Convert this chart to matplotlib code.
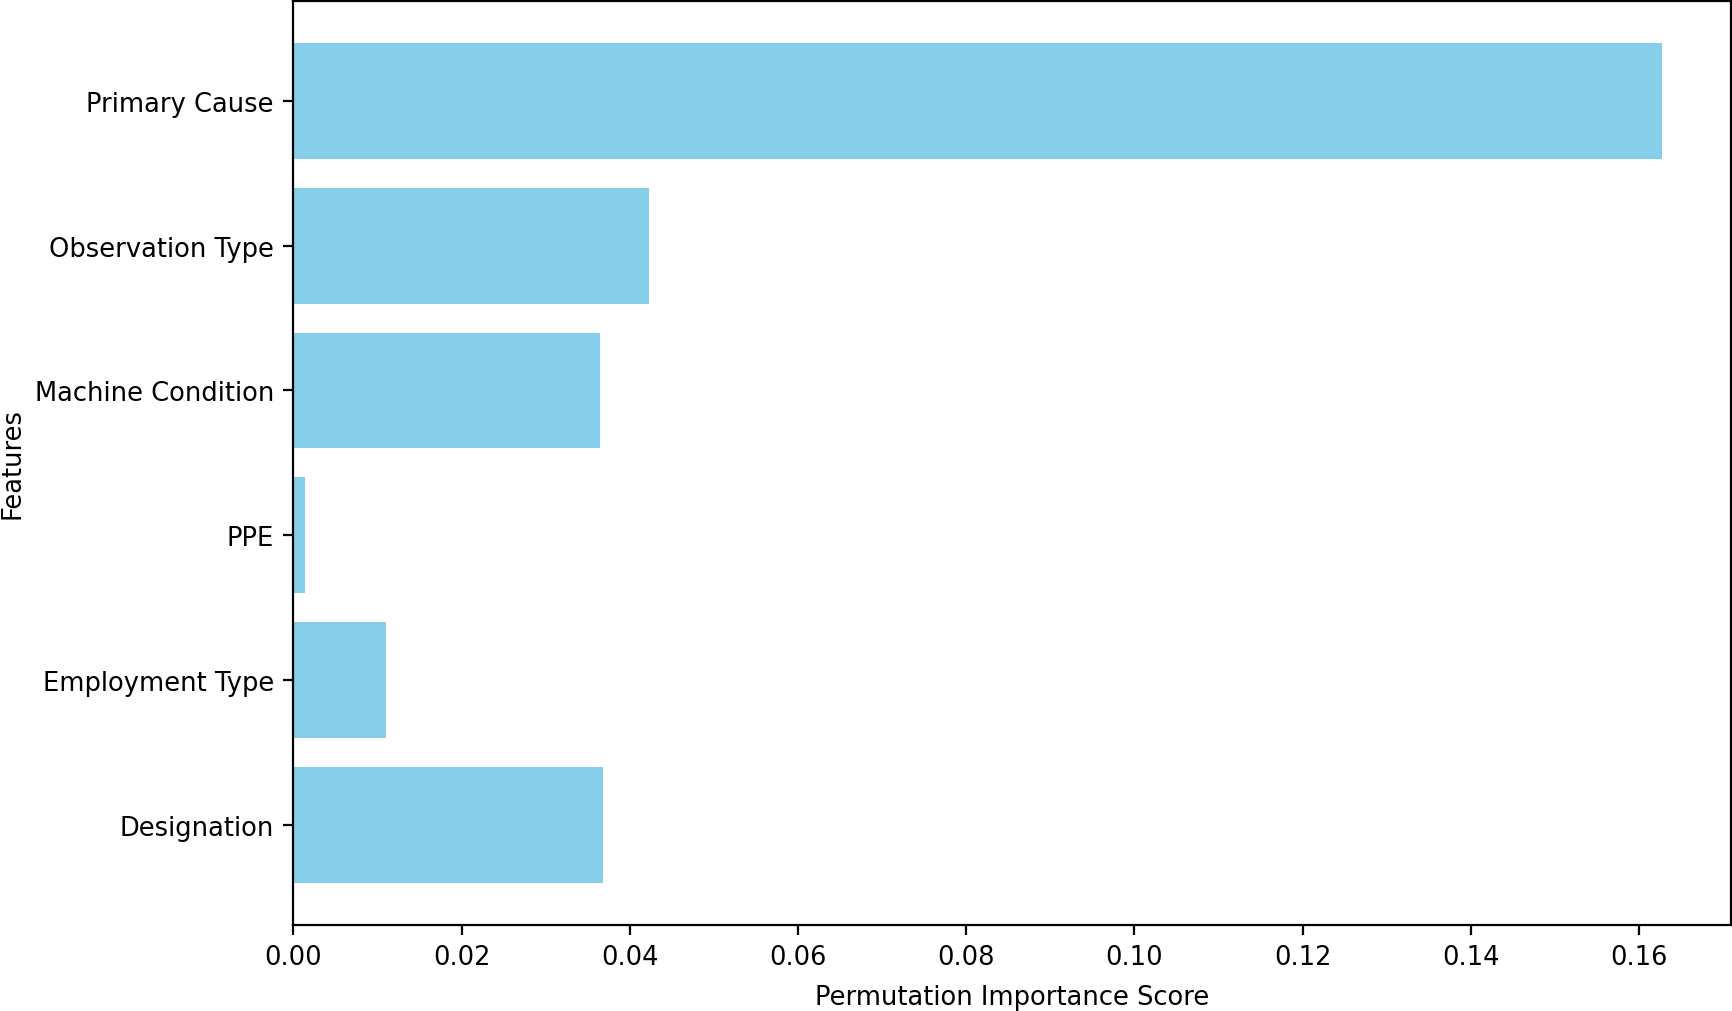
import matplotlib
matplotlib.use("Agg")
import matplotlib.pyplot as plt

features = ["Designation", "Employment Type", "PPE", "Machine Condition",
            "Observation Type", "Primary Cause"]
scores = [0.03685, 0.01096, 0.0014, 0.03646, 0.04225, 0.1628]

plt.rcParams["font.size"] = 9.25
fig = plt.figure(figsize=(1733/200, 1012/200), dpi=200)
ax = fig.add_axes([0.1693, 0.0853, 0.9988 - 0.1693, 0.998 - 0.0853])
ax.barh(features, scores, color="skyblue")
ax.set_xlabel("Permutation Importance Score", labelpad=5.0)
ax.set_ylabel("Features", labelpad=3.3)
fig.savefig("out.png", dpi=200)
